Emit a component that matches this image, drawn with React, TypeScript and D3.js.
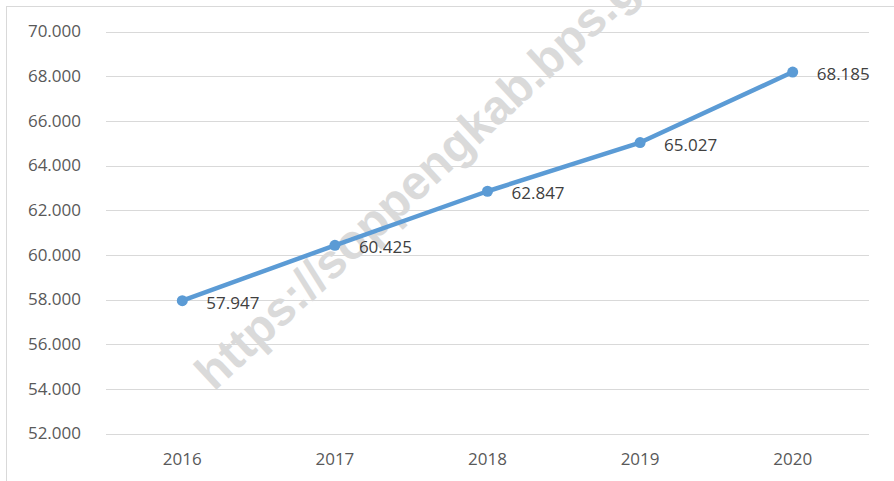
import React, { useEffect, useRef } from "react";
import * as d3 from "d3";

const years = ["2016", "2017", "2018", "2019", "2020"];
const values = [57.947, 60.425, 62.847, 65.027, 68.185];
const yTicks = [52, 54, 56, 58, 60, 62, 64, 66, 68, 70];
const watermark = "https://soppengkab.bps.go.id";

const W = 894;
const H = 481;

export default function App() {
  const ref = useRef<SVGSVGElement>(null);
  useEffect(() => {
    const svg = d3.select(ref.current);
    svg.selectAll("*").remove();
    const left = 106, right = 869, top = 31.5, bottom = 433.5;
    const x = d3.scaleBand().domain(years).range([left, right]);
    const y = d3.scaleLinear().domain([52, 70]).range([bottom, top]);
    const font = "'Open Sans', 'Segoe UI', sans-serif";

    svg.append("rect").attr("x", 0).attr("y", 0).attr("width", W).attr("height", H).attr("fill", "#fff");
    svg.append("rect").attr("x", 6.5).attr("y", 6.5).attr("width", W + 20).attr("height", H + 20)
      .attr("fill", "none").attr("stroke", "#d9d9d9").attr("stroke-width", 1);

    // gridlines
    svg.append("g").selectAll("line").data(yTicks).join("line")
      .attr("x1", left).attr("x2", right)
      .attr("y1", d => Math.round(y(d)) + 0.5).attr("y2", d => Math.round(y(d)) + 0.5)
      .attr("stroke", "#d9d9d9").attr("stroke-width", 1);

    // y labels
    svg.append("g").selectAll("text").data(yTicks).join("text")
      .attr("x", 81).attr("y", d => y(d)).attr("dy", "0.35em")
      .attr("text-anchor", "end").attr("font-family", font).attr("font-size", 17)
      .attr("fill", "#595959").text(d => d3.format(".3f")(d));

    // x labels
    svg.append("g").selectAll("text").data(years).join("text")
      .attr("x", d => (x(d) as number) + x.bandwidth() / 2).attr("y", 459).attr("dy", "0.35em")
      .attr("text-anchor", "middle").attr("font-family", font).attr("font-size", 17)
      .attr("fill", "#595959").text(d => d);

    // watermark
    svg.append("text")
      .attr("transform", "translate(214,392) rotate(-43)")
      .attr("font-family", "'Liberation Sans', Arial, sans-serif").attr("font-weight", "bold")
      .attr("font-size", 48).attr("fill", "#dadada")
      .text(watermark);

    const cx = (i: number) => (x(years[i]) as number) + x.bandwidth() / 2;
    const line = d3.line<number>().x((_, i) => cx(i)).y(d => y(d));
    svg.append("path").datum(values).attr("d", line)
      .attr("fill", "none").attr("stroke", "#5b9bd5").attr("stroke-width", 4.5)
      .attr("stroke-linejoin", "round").attr("stroke-linecap", "round");

    svg.append("g").selectAll("circle").data(values).join("circle")
      .attr("cx", (_, i) => cx(i)).attr("cy", d => y(d)).attr("r", 5.5).attr("fill", "#5b9bd5");

    svg.append("g").selectAll("text").data(values).join("text")
      .attr("x", (_, i) => cx(i) + 24).attr("y", d => y(d) + 2).attr("dy", "0.35em")
      .attr("font-family", font).attr("font-size", 17).attr("fill", "#404040")
      .text(d => d3.format(".3f")(d));
  }, []);
  return (
    <svg ref={ref} width={W} height={H} style={{ position: "absolute", left: 0, top: 0, display: "block" }} />
  );
}
